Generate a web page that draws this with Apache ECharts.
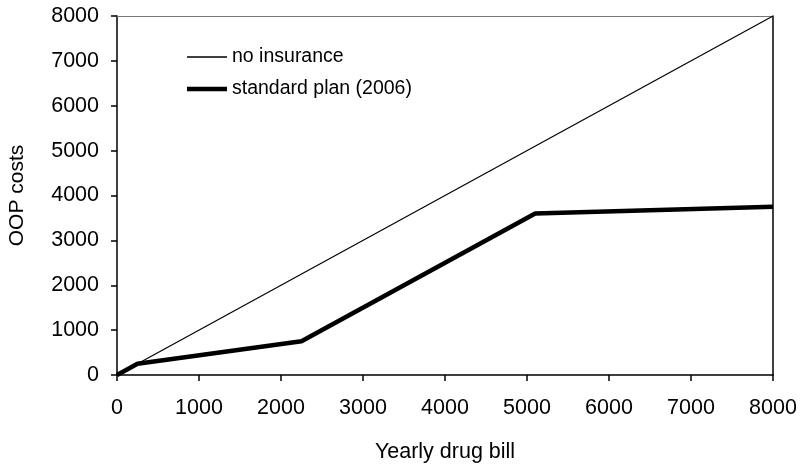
<!DOCTYPE html>
<html><head><meta charset="utf-8">
<script src="https://cdn.jsdelivr.net/npm/echarts@6/dist/echarts.min.js"></script>
<style>html,body{margin:0;padding:0;background:#fff}#c{width:801px;height:471px}</style>
</head><body><div id="c"></div>
<script>
const xTicks = [0,1000,2000,3000,4000,5000,6000,7000,8000];
const yTicks = [0,1000,2000,3000,4000,5000,6000,7000,8000];
const noInsX = [0, 8000];
const noInsY = [0, 8000];
const planX = [0, 250, 2250, 5100, 8000];
const planY = [0, 250, 750, 3600, 3750];
const seriesNames = ['no insurance', 'standard plan (2006)'];

const font = '"Liberation Sans", Arial, sans-serif';
const chart = echarts.init(document.getElementById('c'), null, {renderer:'canvas'});
chart.setOption({
  animation:false,
  backgroundColor:'#fff',
  grid:{left:117,right:28,top:16,bottom:96,containLabel:false,outerBoundsMode:'none'},
  legend:{
    orient:'vertical', left:187, top:47, padding:0, itemGap:12, itemWidth:40, itemHeight:20,
    symbolKeepAspect:true,
    textStyle:{fontFamily:font,fontSize:19.5,color:'#000'},
    data:[
      {name:seriesNames[0],icon:'path://M0,0H37V1.2H0Z'},
      {name:seriesNames[1],icon:'path://M0,0H40V4.5H0Z'}
    ]
  },
  xAxis:[{
    type:'value',min:xTicks[0],max:xTicks[xTicks.length-1],interval:1000,
    name:'Yearly drug bill',nameLocation:'middle',nameGap:66,
    nameTextStyle:{fontFamily:font,fontSize:21.5,color:'#000'},
    axisLine:{show:true,onZero:false,lineStyle:{color:'#000',width:1.5}},
    axisTick:{show:true,length:6,lineStyle:{color:'#000',width:1.5}},
    axisLabel:{fontFamily:font,fontSize:21.5,color:'#000',margin:22,formatter:v=>String(v)},
    splitLine:{show:false}
  },{
    type:'value',position:'top',min:0,max:8000,
    axisLine:{show:true,onZero:false,lineStyle:{color:'#777',width:1}},
    axisTick:{show:false},axisLabel:{show:false},splitLine:{show:false}
  }],
  yAxis:[{
    type:'value',min:yTicks[0],max:yTicks[yTicks.length-1],interval:1000,
    name:'OOP costs',nameLocation:'middle',nameGap:89,nameRotate:90,
    nameTextStyle:{fontFamily:font,fontSize:21,color:'#000'},
    axisLine:{show:true,onZero:false,lineStyle:{color:'#000',width:1.5}},
    axisTick:{show:true,length:6,lineStyle:{color:'#000',width:1.5}},
    axisLabel:{fontFamily:font,fontSize:21.5,color:'#000',margin:18,formatter:v=>String(v)},
    splitLine:{show:false}
  },{
    type:'value',position:'right',min:0,max:8000,
    axisLine:{show:true,onZero:false,lineStyle:{color:'#000',width:1.5}},
    axisTick:{show:false},axisLabel:{show:false},splitLine:{show:false}
  }],
  series:[{
    name:seriesNames[0],type:'line',symbol:'none',color:'#000',
    lineStyle:{color:'#000',width:1.2},itemStyle:{color:'#000'},
    data:noInsX.map((x,i)=>[x,noInsY[i]])
  },{
    name:seriesNames[1],type:'line',symbol:'none',color:'#000',
    lineStyle:{color:'#000',width:4.5},itemStyle:{color:'#000'},
    data:planX.map((x,i)=>[x,planY[i]])
  }]
});
</script></body></html>
